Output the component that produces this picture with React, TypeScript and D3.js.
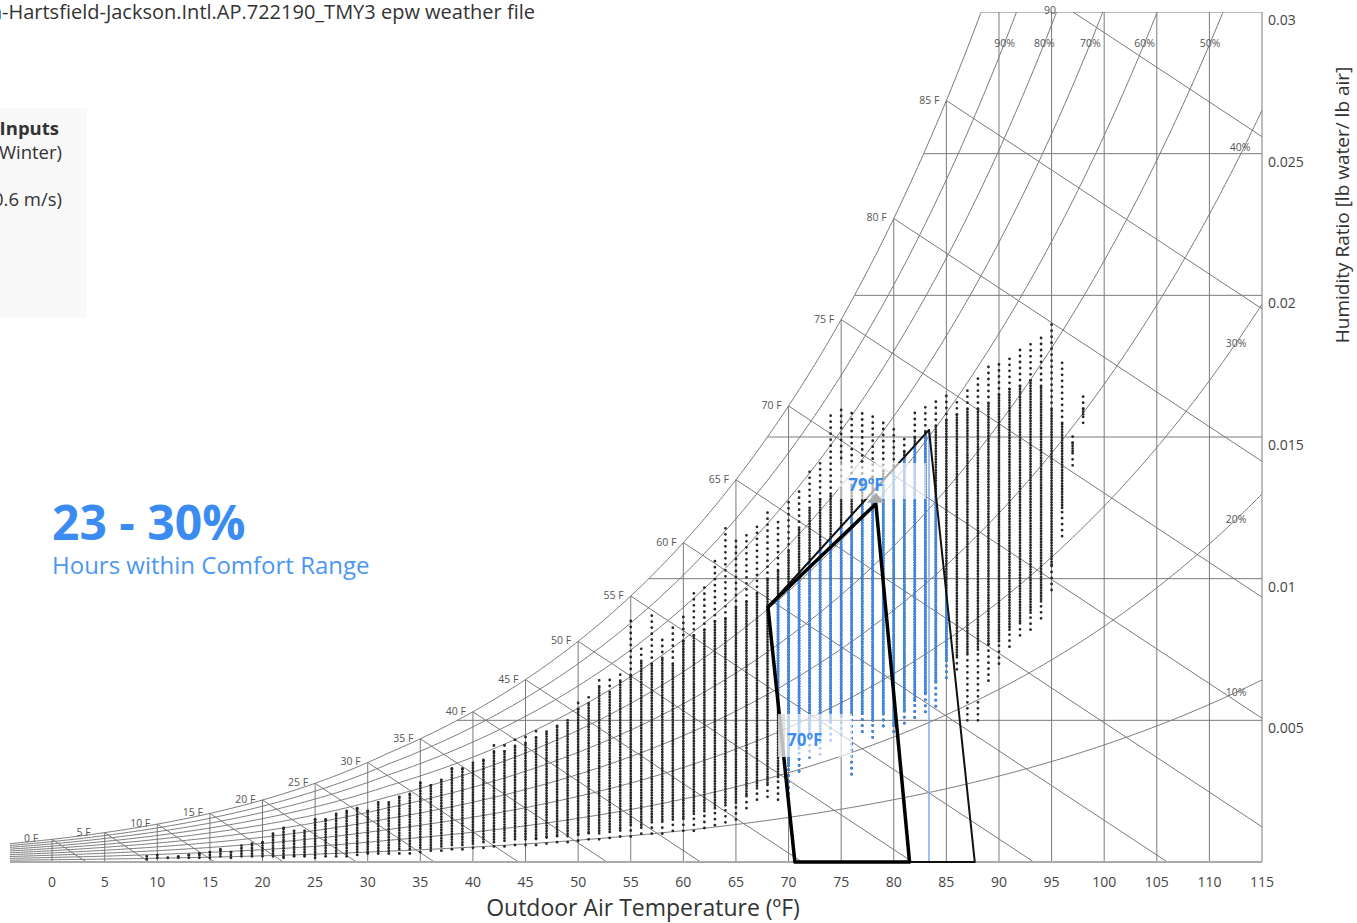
import React from 'react';
import * as d3 from 'd3';

const WIDTH = 1357;
const HEIGHT = 923;
const P_ATM = 14.4; // site barometric pressure, psia

// Axis ticks
const dryBulbTicks = [0, 5, 10, 15, 20, 25, 30, 35, 40, 45, 50, 55, 60, 65, 70, 75, 80, 85, 90, 95, 100, 105, 110, 115];
const humidityTicks = [0.005, 0.01, 0.015, 0.02, 0.025, 0.03];
const humidityTickLabels = ['0.005', '0.01', '0.015', '0.02', '0.025', '0.03'];

// Psychrometric overlay lines
const rhLevels = [0.1, 0.2, 0.3, 0.4, 0.5, 0.6, 0.7, 0.8, 0.9];
const rhLabels = ['10%', '20%', '30%', '40%', '50%', '60%', '70%', '80%', '90%'];
const wetBulbLevels = [0, 5, 10, 15, 20, 25, 30, 35, 40, 45, 50, 55, 60, 65, 70, 75, 80, 85, 90];
const wetBulbSlope = 0.000245; // lb/lb per degF along a wet-bulb line

// Hourly weather data, binned by dry-bulb temperature (degF).
// Humidity ratio extents in lb water per 1000 lb dry air:
// colMin..colLo sparse, colLo..colHi dense, colHi..colMax sparse.
const colTemp = [9, 10, 11, 12, 13, 14, 15, 16, 17, 18, 19, 20, 21, 22, 23, 24, 25, 26, 27, 28, 29, 30, 31, 32, 33, 34, 35, 36, 37, 38, 39, 40, 41, 42, 43, 44, 45, 46, 47, 48, 49, 50, 51, 52, 53, 54, 55, 56, 57, 58, 59, 60, 61, 62, 63, 64, 65, 66, 67, 68, 69, 70, 71, 72, 73, 74, 75, 76, 77, 78, 79, 80, 81, 82, 83, 84, 85, 86, 87, 88, 89, 90, 91, 92, 93, 94, 95, 96, 97, 98];
const colMin = [0.1, 0.15, 0.15, 0.15, 0.15, 0.15, 0.15, 0.2, 0.15, 0.2, 0.2, 0.2, 0.2, 0.15, 0.2, 0.2, 0.15, 0.2, 0.2, 0.2, 0.25, 0.3, 0.3, 0.3, 0.3, 0.3, 0.35, 0.4, 0.4, 0.45, 0.45, 0.5, 0.5, 0.55, 0.55, 0.6, 0.6, 0.6, 0.65, 0.7, 0.7, 0.75, 0.8, 0.8, 0.85, 0.9, 0.9, 1.0, 1.0, 1.0, 1.1, 1.1, 1.1, 1.2, 1.3, 1.4, 1.5, 1.9, 2.2, 2.3, 2.2, 2.2, 3.2, 3.7, 3.8, 4.3, 4.5, 3.1, 4.6, 4.4, 4.8, 4.6, 4.9, 5.1, 5.3, 5.5, 6.5, 6.8, 5.0, 5.0, 6.4, 7.0, 7.6, 8.0, 8.2, 8.6, 9.6, 11.5, 14.0, 15.5];
const colLo = [0.1, 0.15, 0.15, 0.15, 0.15, 0.15, 0.15, 0.2, 0.15, 0.2, 0.2, 0.2, 0.2, 0.2, 0.25, 0.25, 0.25, 0.3, 0.3, 0.3, 0.35, 0.35, 0.4, 0.4, 0.45, 0.45, 0.5, 0.5, 0.55, 0.6, 0.6, 0.65, 0.7, 0.7, 0.75, 0.8, 0.8, 0.85, 0.9, 0.95, 1.0, 1.0, 1.05, 1.1, 1.15, 1.2, 1.3, 1.3, 1.4, 1.5, 1.5, 1.6, 1.7, 1.8, 1.9, 2.0, 2.1, 2.4, 2.6, 2.8, 3.0, 3.4, 4.0, 4.5, 4.6, 5.0, 5.2, 5.2, 5.3, 5.0, 5.3, 4.9, 5.4, 5.7, 6.0, 6.4, 7.1, 7.3, 7.4, 7.5, 7.7, 7.8, 8.2, 8.5, 8.8, 9.2, 10.5, 12.5, 14.5, 15.8];
const colHi = [0.2, 0.25, 0.2, 0.2, 0.25, 0.3, 0.35, 0.45, 0.35, 0.6, 0.65, 0.7, 1.0, 1.2, 1.1, 1.1, 1.5, 1.5, 1.7, 1.8, 1.9, 1.8, 2.1, 2.1, 2.3, 2.4, 2.8, 2.7, 2.9, 3.3, 3.3, 3.5, 3.6, 3.9, 3.9, 4.1, 4.2, 4.4, 4.6, 4.8, 5.0, 5.4, 5.6, 6.2, 6.0, 6.4, 6.6, 7.1, 7.0, 7.2, 7.0, 7.8, 8.0, 8.2, 8.5, 8.6, 9.0, 9.2, 9.5, 10.0, 10.3, 11.0, 11.8, 12.5, 12.8, 13.0, 13.2, 13.3, 13.5, 13.6, 13.8, 14.0, 14.5, 15.0, 15.2, 15.4, 15.6, 15.8, 16.0, 16.0, 16.2, 16.5, 16.7, 16.8, 17.0, 16.8, 16.0, 15.5, 14.8, 16.0];
const colMax = [0.2, 0.25, 0.2, 0.25, 0.3, 0.35, 0.4, 0.5, 0.5, 0.6, 0.7, 0.8, 1.1, 1.3, 1.2, 1.3, 1.6, 1.7, 1.8, 1.9, 2.0, 2.0, 2.3, 2.3, 2.5, 2.6, 3.0, 2.9, 3.1, 3.4, 3.5, 3.7, 3.8, 4.3, 4.2, 4.5, 4.5, 4.7, 4.8, 5.0, 5.2, 5.8, 5.9, 6.6, 6.6, 6.8, 8.7, 7.6, 8.9, 8.0, 8.4, 8.8, 9.6, 9.8, 10.8, 11.8, 11.5, 11.6, 11.9, 12.5, 12.2, 12.8, 13.2, 13.8, 14.1, 15.9, 16.0, 16.0, 15.9, 15.9, 15.5, 15.3, 15.0, 15.9, 16.1, 16.4, 16.6, 16.3, 16.8, 17.2, 17.5, 17.6, 17.8, 18.1, 18.3, 18.5, 19.1, 17.7, 15.1, 16.5];

// Comfort zones [dry bulb degF, humidity ratio]
const comfortZone = [[70.6, 0], [68.04, 0.009], [78.3, 0.01264], [81.5, 0]];
const elevatedZone = [[70.6, 0], [68.04, 0.009], [83.35, 0.01525], [87.7, 0]];
const elevatedMarkerT = 83.35;

const titleText = 'USA_GA_Atlanta-Hartsfield-Jackson.Intl.AP.722190_TMY3 epw weather file';
const inputLines = ['Comfort Model Inputs', 'Clothing: 1.0 clo (Winter)', 'Air Speed: 0.1 m/s (0.6 m/s)'];
const comfortShare = '23 - 30%';

const FONT = '"Open Sans", "Noto Sans", sans-serif';
const LINE = '#7a7a7a';
const BLUE = '#3a8cf2';
const DOT = '#262626';

// Saturation vapour pressure (psia), ASHRAE formulation
function pws(tF: number): number {
  const T = tF + 459.67;
  if (tF < 32) {
    return Math.exp(-1.0214165e4 / T - 4.8932428 - 5.3765794e-3 * T + 1.9202377e-7 * T * T +
      3.5575832e-10 * T ** 3 - 9.0344688e-14 * T ** 4 + 4.1635019 * Math.log(T));
  }
  return Math.exp(-1.0440397e4 / T - 1.129465e1 - 2.7022355e-2 * T + 1.289036e-5 * T * T -
    2.4780681e-9 * T ** 3 + 6.5459673 * Math.log(T));
}
function humRatio(tF: number, rh: number): number {
  const pw = rh * pws(tF);
  return (0.621945 * pw) / (P_ATM - pw);
}
function tempAtRh(w: number, rh: number): number {
  let lo = -40;
  let hi = 200;
  for (let i = 0; i < 60; i++) {
    const mid = (lo + hi) / 2;
    if (humRatio(mid, rh) < w) lo = mid; else hi = mid;
  }
  return (lo + hi) / 2;
}

export default function App() {
  const x = d3.scaleLinear().domain([-4, 115]).range([10, 1262]);
  const y = d3.scaleLinear().domain([0, 0.03]).range([862, 12]);
  const [x0, x1] = x.range();
  const [yBottom, yTop] = y.range();

  const samples = d3.range(-4, 115.001, 0.25);
  const curve = (rh: number) =>
    d3.line<number>().x((t) => x(t)).y((t) => y(humRatio(t, rh)))(samples) || '';

  const zonePath = (pts: number[][]) =>
    d3.line<number[]>().x((p) => x(p[0])).y((p) => y(p[1])).curve(d3.curveLinearClosed)(pts) || '';

  const columns = (color: string) =>
    colTemp.map((t, i) => {
      const cx = x(t);
      const parts = [
        { a: colMin[i], b: colLo[i], dash: '0 6', dense: false },
        { a: colLo[i], b: colHi[i], dash: '0 2.7', dense: true },
        { a: colHi[i], b: colMax[i], dash: '0 6', dense: false },
      ];
      return (
        <g key={t}>
          {parts.filter((p) => p.dense || p.b - p.a > 0.001).map((p, j) => (
            <line key={j} x1={cx} x2={cx} y1={y(p.a / 1000)} y2={y(p.b / 1000) - 0.01}
              stroke={color} strokeWidth={2.8}
              strokeLinecap="round" strokeDasharray={p.dash} />
          ))}
        </g>
      );
    });

  const apex = comfortZone[2];
  const apexX = x(apex[0]);
  const apexY = y(apex[1]);

  // label anchor along the right edge for the low relative-humidity curves
  const rhSideX = (rh: number) => (rh > 0.35 ? 1244 : 1236);

  return (
    <svg width={WIDTH} height={HEIGHT} style={{ position: 'absolute', left: 0, top: 0, background: '#fff' }}
      fontFamily={FONT}>
      <defs>
        <clipPath id="plotArea">
          <rect x={x0} y={yTop} width={x1 - x0} height={yBottom - yTop} />
        </clipPath>
        <clipPath id="comfortArea">
          <path d={zonePath(comfortZone)} />
          <path d={zonePath(elevatedZone)} />
        </clipPath>
      </defs>

      {/* Title and model inputs */}
      <text x={535} y={19} textAnchor="end" fontSize={20} fill="#333">{titleText}</text>
      <rect x={-20} y={108} width={107} height={210} fill="#f9f9f9" />
      <text x={59} y={135} textAnchor="end" fontSize={18.5} fontWeight="bold" fill="#333">{inputLines[0]}</text>
      <text x={62} y={159} textAnchor="end" fontSize={18.5} fill="#333">{inputLines[1]}</text>
      <text x={62} y={206} textAnchor="end" fontSize={18.5} fill="#333">{inputLines[2]}</text>

      {/* Psychrometric grid */}
      <g clipPath="url(#plotArea)" fill="none" stroke={LINE} strokeWidth={1}>
        {dryBulbTicks.filter((t) => t < 115).map((t) => (
          <line key={`db${t}`} x1={x(t)} x2={x(t)} y1={yBottom} y2={y(Math.min(humRatio(t, 1), 0.03))} />
        ))}
        {humidityTicks.map((w) => (
          <line key={`w${w}`} x1={x(tempAtRh(w, 1))} x2={x1} y1={y(w)} y2={y(w)} />
        ))}
        {rhLevels.map((rh) => (
          <path key={`rh${rh}`} d={curve(rh)} />
        ))}
        <path d={curve(1)} />
        {wetBulbLevels.map((twb) => {
          const ws = humRatio(twb, 1);
          const tEnd = twb + ws / wetBulbSlope;
          return <line key={`wb${twb}`} x1={x(twb)} y1={y(ws)} x2={x(tEnd)} y2={y(0)} />;
        })}
      </g>
      <line x1={x1} x2={x1} y1={yTop} y2={yBottom} stroke={LINE} strokeWidth={1} />
      <line x1={x0} x2={x1} y1={yBottom} y2={yBottom} stroke="#aaa" strokeWidth={2} />

      {/* Wet-bulb labels */}
      {wetBulbLevels.filter((t) => t < 90).map((twb) => (
        <text key={`wbl${twb}`} x={x(twb) - (twb < 10 ? 14 : 7)} y={y(humRatio(twb, 1)) + 3} textAnchor="end"
          fontSize={10.5} fill="#555">{`${twb} F`}</text>
      ))}
      <text x={1050} y={14} textAnchor="middle" fontSize={10.5} fill="#555">90</text>

      {/* Relative humidity labels */}
      {rhLevels.map((rh, i) => {
        if (rh >= 0.5) {
          const wl = y.invert(43);
          return (
            <text key={`rhl${rh}`} x={x(tempAtRh(wl, rh))} y={47} textAnchor="middle" fontSize={10.5} fill="#555">
              {rhLabels[i]}
            </text>
          );
        }
        const lx = rhSideX(rh);
        const tl = x.invert(lx);
        return (
          <text key={`rhl${rh}`} x={rh > 0.35 ? 1240 : lx} y={y(humRatio(tl, rh)) + 4} textAnchor="middle"
            fontSize={10.5} fill="#555">
            {rhLabels[i]}
          </text>
        );
      })}

      {/* Hourly weather data */}
      <g>{columns(DOT)}</g>
      <g clipPath="url(#comfortArea)">{columns(BLUE)}</g>

      {/* Comfort zones */}
      <line x1={x(elevatedMarkerT)} x2={x(elevatedMarkerT)} y1={y(elevatedZone[2][1])} y2={yBottom}
        stroke="#7fa9ee" strokeWidth={1.5} />
      <path d={zonePath(elevatedZone)} fill="none" stroke="#111" strokeWidth={2} strokeLinejoin="round" />
      <path d={zonePath(comfortZone)} fill="none" stroke="#000" strokeWidth={3.5} strokeLinejoin="round" />

      {/* Zone tooltips */}
      <rect x={838} y={463} width={88} height={36} fill="#fff" fillOpacity={0.65} />
      <polygon points={`${apexX - 9},${apexY - 1} ${apexX + 9},${apexY - 1} ${apexX},${apexY - 11}`} fill="#aaa" />
      <text x={866} y={491} textAnchor="middle" fontSize={17} fontWeight="bold" fill={BLUE}>79ºF</text>

      <rect x={778} y={714} width={74} height={43} fill="#fff" fillOpacity={0.65} />
      <rect x={778} y={714} width={7} height={43} fill="#ccc" fillOpacity={0.6} />
      <text x={787} y={746} fontSize={17} fontWeight="bold" fill={BLUE}>70ºF</text>

      {/* Comfort summary */}
      <text x={52} y={540} fontSize={48} fontWeight="bold" fill={BLUE}>{comfortShare}</text>
      <text x={52} y={574} fontSize={24} fill="#4b97f2">Hours within Comfort Range</text>

      {/* Axes */}
      {dryBulbTicks.map((t) => (
        <text key={`xt${t}`} x={x(t)} y={887} textAnchor="middle" fontSize={14} fill="#444">{t}</text>
      ))}
      <text x={643} y={916} textAnchor="middle" fontSize={23} fill="#333">Outdoor Air Temperature (ºF)</text>
      {humidityTicks.map((w, i) => (
        <text key={`yt${w}`} x={1268} y={y(w) + 13} fontSize={14} fill="#444">{humidityTickLabels[i]}</text>
      ))}
      <text transform="translate(1349,205) rotate(-90)" textAnchor="middle" fontSize={19} fill="#333">
        Humidity Ratio [lb water/ lb air]
      </text>
    </svg>
  );
}
